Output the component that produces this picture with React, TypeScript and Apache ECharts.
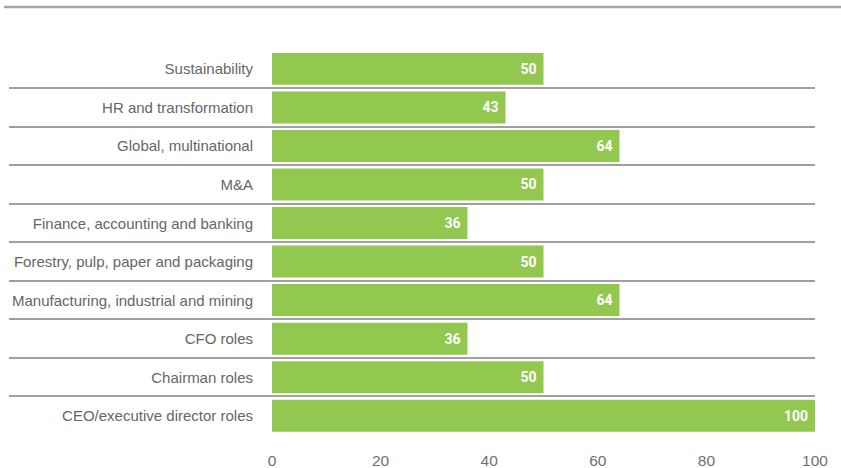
import React, { useEffect, useRef } from "react";
import * as echarts from "echarts";

const categories = [
  "Sustainability",
  "HR and transformation",
  "Global, multinational",
  "M&A",
  "Finance, accounting and banking",
  "Forestry, pulp, paper and packaging",
  "Manufacturing, industrial and mining",
  "CFO roles",
  "Chairman roles",
  "CEO/executive director roles",
];
const values = [50, 43, 64, 50, 36, 50, 64, 36, 50, 100];
const xTicks = { min: 0, max: 100, interval: 20 };

export default function App() {
  const ref = useRef<HTMLDivElement>(null);
  useEffect(() => {
    document.body.style.margin = "0";
    const chart = echarts.init(ref.current!, null, { renderer: "svg" });
    const option: any = {
      animation: false,
      backgroundColor: "#ffffff",
      grid: { left: 272, right: 26, top: 49.6, bottom: 31.6, containLabel: false },
      xAxis: {
        type: "value",
        min: xTicks.min,
        max: xTicks.max,
        interval: xTicks.interval,
        axisLine: { show: false },
        axisTick: { show: false },
        splitLine: { show: false },
        axisLabel: {
          color: "#707070",
          fontSize: 15.5,
          fontFamily: "Liberation Sans, Arial, sans-serif",
          margin: 17,
        },
      },
      yAxis: {
        type: "category",
        inverse: true,
        data: categories,
        axisLine: { show: false },
        axisTick: { show: false },
        splitLine: { show: false },
        axisLabel: {
          color: "#666666",
          fontSize: 15,
          fontFamily: "Liberation Sans, Arial, sans-serif",
          margin: 19,
        },
      },
      series: [
        {
          type: "bar",
          data: values,
          barCategoryGap: "17%",
          itemStyle: { color: "#92c850" },
          label: {
            show: true,
            position: "insideRight",
            distance: 7,
            color: "#ffffff",
            fontSize: 14,
            fontWeight: "bold",
            fontFamily: "Roboto, Arial, sans-serif",
          },
        },
      ],
    };
    chart.setOption(option);

    const graphics: any[] = [
      {
        type: "line",
        shape: { x1: 4, y1: 7, x2: 841, y2: 7 },
        style: { stroke: "#a5a5a5", lineWidth: 2.5 },
      },
    ];
    const rightX = chart.convertToPixel({ xAxisIndex: 0 }, xTicks.max) as number;
    for (let i = 0; i < categories.length - 1; i++) {
      const y1 = chart.convertToPixel({ yAxisIndex: 0 }, categories[i]) as number;
      const y2 = chart.convertToPixel({ yAxisIndex: 0 }, categories[i + 1]) as number;
      const y = Math.round((y1 + y2) / 2);
      graphics.push({
        type: "line",
        shape: { x1: 9, y1: y, x2: rightX, y2: y },
        style: { stroke: "#a0a0a0", lineWidth: 2 },
      });
    }
    chart.setOption({ graphic: graphics });
    return () => chart.dispose();
  }, []);
  return (
    <div
      ref={ref}
      style={{ position: "fixed", left: 0, top: 0, width: 841, height: 468 }}
    />
  );
}
